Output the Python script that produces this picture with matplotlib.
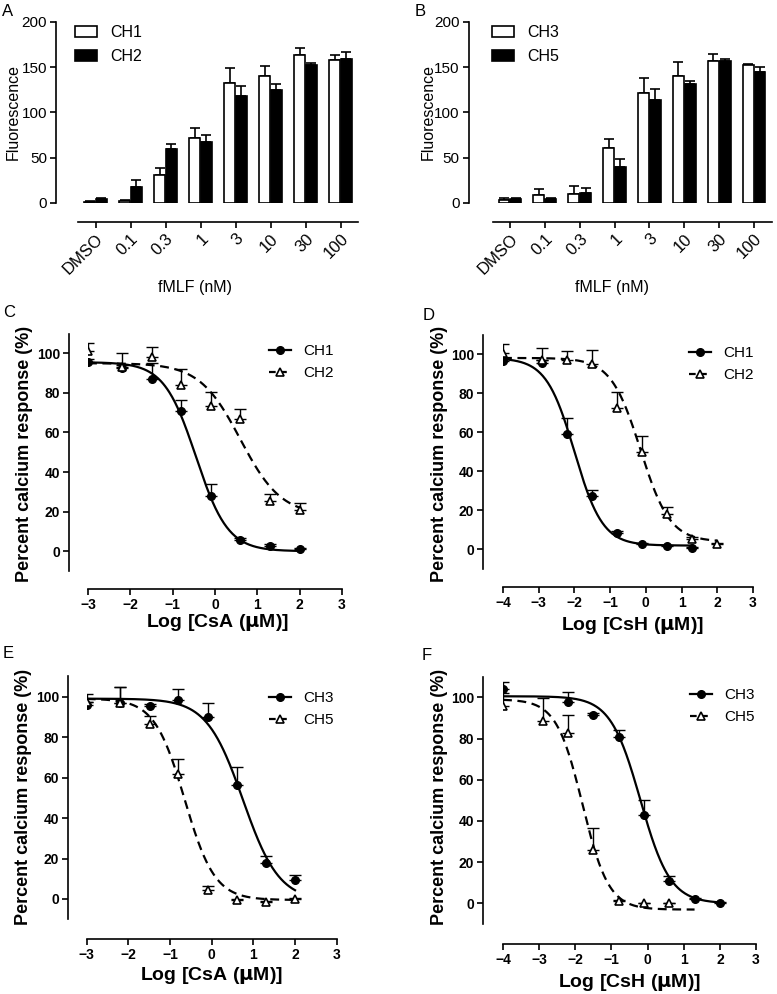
import numpy as np
import matplotlib
matplotlib.use("Agg")
import matplotlib.pyplot as plt
from matplotlib.patches import Patch
from matplotlib.lines import Line2D

plt.rcParams['font.family'] = ['Liberation Sans', 'DejaVu Sans']

W, H = 777, 994

# ---------------- data: bar panels ----------------
bar_cats = ["DMSO", "0.1", "0.3", "1", "3", "10", "30", "100"]
A_ch1 = [1, 2, 31, 72, 133, 140, 163, 158]
A_ch1_err = [1, 1, 8, 11, 16, 11, 8, 5]
A_ch2 = [4, 18, 60, 67, 118, 125, 152, 159]
A_ch2_err = [2, 7, 5, 8, 11, 6, 3, 8]
B_ch3 = [3, 9, 10, 61, 122, 140, 157, 152]
B_ch3_err = [2, 6, 9, 10, 16, 16, 8, 2]
B_ch5 = [4, 4, 11, 40, 114, 131, 157, 145]
B_ch5_err = [1, 1, 6, 9, 12, 4, 2, 5]

# ---------------- data: concentration-response panels ----------------
xA = [-3, -2.19, -1.49, -0.80, -0.10, 0.60, 1.30, 2.0]
C_ch1 = [95.5, 92.5, 87, 71, 28, 5.5, 2.5, 1]
C_ch1_err = [1.5, 1.5, 8, 5.5, 6, 1, 1, 0.5]
C_ch2 = [101, 93, 98, 84, 73.5, 67, 25.5, 21]
C_ch2_err = [4, 7, 5, 8, 7, 5, 3.5, 3.5]
C_fit_ch1 = dict(top=95.5, bottom=0, logic50=-0.45, hill=1.15)
C_fit_ch2 = dict(top=95, bottom=18, logic50=0.6, hill=0.9)

xD1 = [-4, -2.9, -2.2, -1.5, -0.8, -0.1, 0.6, 1.3]
D_ch1 = [96.5, 95.5, 59, 27.5, 8.5, 3, 2, 0.8]
D_ch1_err = [1.5, 1.5, 8.5, 3, 1, 0.5, 0.5, 0.5]
xD2 = [-4, -2.9, -2.2, -1.5, -0.8, -0.1, 0.6, 1.3, 2.0]
D_ch2 = [100.5, 97, 97, 95, 72.5, 50, 18, 5.5, 3]
D_ch2_err = [4.5, 6, 4.5, 7, 8, 8, 3.5, 1, 0.5]
D_fit_ch1 = dict(top=98, bottom=2, logic50=-2.0, hill=1.1)
D_fit_ch2 = dict(top=98, bottom=4, logic50=-0.15, hill=1.05)

E_ch3 = [96, 97, 95.5, 98.5, 90, 56.5, 18, 9.5]
E_ch3_err = [1.5, 8, 1, 5.5, 7, 8.5, 3, 2.5]
E_ch5 = [97.5, 97, 86.5, 62, 4.5, -0.5, -1.5, 0]
E_ch5_err = [4, 8, 4, 7, 2, 0.5, 0.5, 0.5]
E_fit_ch3 = dict(top=99, bottom=-1, logic50=0.75, hill=1.0)
E_fit_ch5 = dict(top=99, bottom=-0.5, logic50=-0.65, hill=1.2)

xF3 = [-4, -2.2, -1.5, -0.8, -0.1, 0.6, 1.3, 2.0]
F_ch3 = [104, 97.5, 91.5, 80.5, 43, 11, 2, 0.3]
F_ch3_err = [3.5, 5, 1, 3.5, 7, 2.5, 0.5, 0.3]
xF5 = [-4, -2.9, -2.2, -1.5, -0.8, -0.1, 0.6]
F_ch5 = [96, 88.5, 82.5, 26, 1, 0, 0]
F_ch5_err = [6, 11, 9, 10.5, 0.5, 0.3, 0.3]
F_fit_ch3 = dict(top=100.5, bottom=0, logic50=-0.2, hill=1.05)
F_fit_ch5 = dict(top=99, bottom=-3, logic50=-1.8, hill=1.2)


def logistic(x, top, bottom, logic50, hill):
    return bottom + (top - bottom) / (1 + 10 ** ((x - logic50) * hill))


fig = plt.figure(figsize=(W / 100, H / 100), dpi=100)


def add_ax(left, right, top, bottom):
    return fig.add_axes([left / W, 1 - bottom / H, (right - left) / W, (bottom - top) / H])


def px_to_fig(x, y):
    return x / W, 1 - y / H


def style_axes(ax, left_out, bottom_out, lw=1.2):
    for s in ['top', 'right']:
        ax.spines[s].set_visible(False)
    ax.spines['left'].set_position(('outward', left_out * 0.72))
    ax.spines['bottom'].set_position(('outward', bottom_out * 0.72))
    ax.spines['left'].set_linewidth(lw)
    ax.spines['bottom'].set_linewidth(lw)
    ax.tick_params(direction='out', length=4, width=lw, colors='black', pad=2.5)


def bar_panel(ax, v1, e1, v2, e2, left_out, xlab_xy, ylab_x):
    style_axes(ax, left_out, 19)
    idx = np.arange(len(bar_cats))
    w = 0.31
    ax.bar(idx - 0.17, v1, w, color='white', edgecolor='black', linewidth=1.2, zorder=2)
    ax.bar(idx + 0.17, v2, w, color='black', edgecolor='black', linewidth=1.2, zorder=2)
    ax.errorbar(idx - 0.17, v1, yerr=[np.zeros(len(v1)), e1], fmt='none', ecolor='black',
                elinewidth=1.2, capsize=3.5, capthick=1.2, zorder=1)
    ax.errorbar(idx + 0.17, v2, yerr=[np.zeros(len(v2)), e2], fmt='none', ecolor='black',
                elinewidth=1.2, capsize=3.5, capthick=1.2, zorder=1)
    ax.set_xlim(-0.5, 7.5)
    ax.set_ylim(0, 200)
    ax.set_yticks([0, 50, 100, 150, 200])
    ax.set_xticks(idx)
    ax.set_xticklabels(bar_cats, rotation=45, ha='right', rotation_mode='anchor', fontsize=12)
    ax.tick_params(axis='y', labelsize=11)
    ax.set_ylabel('Fluorescence', fontsize=11.5)
    ax.yaxis.set_label_coords(*px_to_fig(ylab_x, 112), transform=fig.transFigure)
    ax.set_xlabel('fMLF (nM)', fontsize=11.5)
    ax.xaxis.set_label_coords(*px_to_fig(*xlab_xy), transform=fig.transFigure)
    handles = [Patch(facecolor='white', edgecolor='black', linewidth=1.2),
               Patch(facecolor='black', edgecolor='black', linewidth=1.2)]
    return handles


# ---- Panel A
axA = add_ax(78, 358, 22, 203)
h = bar_panel(axA, A_ch1, A_ch1_err, A_ch2, A_ch2_err, 22, (195, 280), 21)
axA.legend(h, ['CH1', 'CH2'], loc='upper left', bbox_to_anchor=px_to_fig(75, 25),
           bbox_transform=fig.transFigure, frameon=False, fontsize=11.5,
           handlelength=1.4, handleheight=0.7, handletextpad=0.8, labelspacing=0.55,
           borderpad=0, borderaxespad=0)
fig.text(*px_to_fig(2, 11), 'A', fontsize=12, va='center', ha='left')

# ---- Panel B
axB = add_ax(492.5, 771.5, 22, 203)
h = bar_panel(axB, B_ch3, B_ch3_err, B_ch5, B_ch5_err, 24, (612, 280), 436)
axB.legend(h, ['CH3', 'CH5'], loc='upper left', bbox_to_anchor=px_to_fig(492, 25),
           bbox_transform=fig.transFigure, frameon=False, fontsize=11.5,
           handlelength=1.4, handleheight=0.7, handletextpad=0.8, labelspacing=0.55,
           borderpad=0, borderaxespad=0)
fig.text(*px_to_fig(415, 11), 'B', fontsize=12, va='center', ha='left')


def curve_panel(ax, xs1, y1, e1, fit1, xs2, y2, e2, fit2, names, xlim, xlabel,
                left_out, bottom_out, ylab_x, ylab_y, xlab_xy, leg_xy, rng1, rng2):
    style_axes(ax, left_out, bottom_out)
    ax.errorbar(xs1, y1, yerr=[np.zeros(len(y1)), e1], fmt='none', ecolor='black',
                elinewidth=1.0, capsize=4, capthick=1.0, zorder=3)
    ax.errorbar(xs2, y2, yerr=[np.zeros(len(y2)), e2], fmt='none', ecolor='black',
                elinewidth=1.0, capsize=4, capthick=1.0, zorder=3)
    g1 = np.linspace(rng1[0], rng1[1], 300)
    g2 = np.linspace(rng2[0], rng2[1], 300)
    ax.plot(g1, logistic(g1, **fit1), color='black', lw=1.6, zorder=2)
    ax.plot(g2, logistic(g2, **fit2), color='black', lw=1.6, ls=(0, (4, 2.5)), zorder=2)
    ax.plot(xs1, y1, 'o', ms=5.5, color='black', zorder=4)
    ax.plot(xs2, y2, '^', ms=6, mfc='white', mec='black', mew=1.2, zorder=4)
    ax.set_xlim(*xlim)
    ax.set_ylim(-10, 110)
    ax.set_yticks([0, 20, 40, 60, 80, 100])
    ax.set_xticks(np.arange(xlim[0], xlim[1] + 1))
    for lab in ax.get_xticklabels() + ax.get_yticklabels():
        lab.set_fontweight('bold')
        lab.set_fontsize(10)
    ax.set_ylabel('Percent calcium response (%)', fontsize=13, fontweight='bold')
    ax.yaxis.set_label_coords(*px_to_fig(ylab_x, ylab_y), transform=fig.transFigure)
    ax.set_xlabel(xlabel, fontsize=14, fontweight='bold')
    ax.xaxis.set_label_coords(*px_to_fig(*xlab_xy), transform=fig.transFigure)
    handles = [Line2D([], [], color='black', lw=1.6, marker='o', ms=5.5),
               Line2D([], [], color='black', lw=1.6, ls=(0, (3, 2)), marker='^', ms=6,
                      mfc='white', mec='black', mew=1.2)]
    ax.legend(handles, names, loc='upper left', bbox_to_anchor=px_to_fig(*leg_xy),
              bbox_transform=fig.transFigure, frameon=False, fontsize=11,
              handlelength=1.45, handletextpad=0.8, labelspacing=0.55, numpoints=1,
              borderpad=0, borderaxespad=0)


# ---- Panel C
axC = add_ax(88, 342, 333.5, 571)
curve_panel(axC, xA, C_ch1, C_ch1_err, C_fit_ch1, xA, C_ch2, C_ch2_err, C_fit_ch2,
            ['CH1', 'CH2'], (-3, 3), r'Log [CsA ($\mathbf{\mu}$M)]',
            19, 18, 33, 454, (218, 612), (269, 344), (-3, 2), (-3, 2))
fig.text(*px_to_fig(3, 312), 'C', fontsize=12, va='center', ha='left')

# ---- Panel D
axD = add_ax(503, 753, 334.5, 569)
curve_panel(axD, xD1, D_ch1, D_ch1_err, D_fit_ch1, xD2, D_ch2, D_ch2_err, D_fit_ch2,
            ['CH1', 'CH2'], (-4, 3), r'Log [CsH ($\mathbf{\mu}$M)]',
            20, 18, 448, 454, (633, 615), (689, 346), (-4, 1.3), (-4, 2))
fig.text(*px_to_fig(423, 315), 'D', fontsize=12, va='center', ha='left')

# ---- Panel E
axE = add_ax(86.7, 336.7, 676.4, 919.2)
curve_panel(axE, xA, E_ch3, E_ch3_err, E_fit_ch3, xA, E_ch5, E_ch5_err, E_fit_ch5,
            ['CH3', 'CH5'], (-3, 3), r'Log [CsA ($\mathbf{\mu}$M)]',
            18.7, 20, 32, 797, (212, 965), (269, 691), (-3, 2), (-3, 2))
fig.text(*px_to_fig(3, 654), 'E', fontsize=12, va='center', ha='left')

# ---- Panel F
axF = add_ax(503, 756, 676.7, 924)
curve_panel(axF, xF3, F_ch3, F_ch3_err, F_fit_ch3, xF5, F_ch5, F_ch5_err, F_fit_ch5,
            ['CH3', 'CH5'], (-4, 3), r'Log [CsH ($\mathbf{\mu}$M)]',
            20, 20, 448, 797, (630, 972), (690, 688), (-4, 2), (-4, 1.3))
fig.text(*px_to_fig(422, 656), 'F', fontsize=12, va='center', ha='left')

fig.savefig('out.png', dpi=100)
